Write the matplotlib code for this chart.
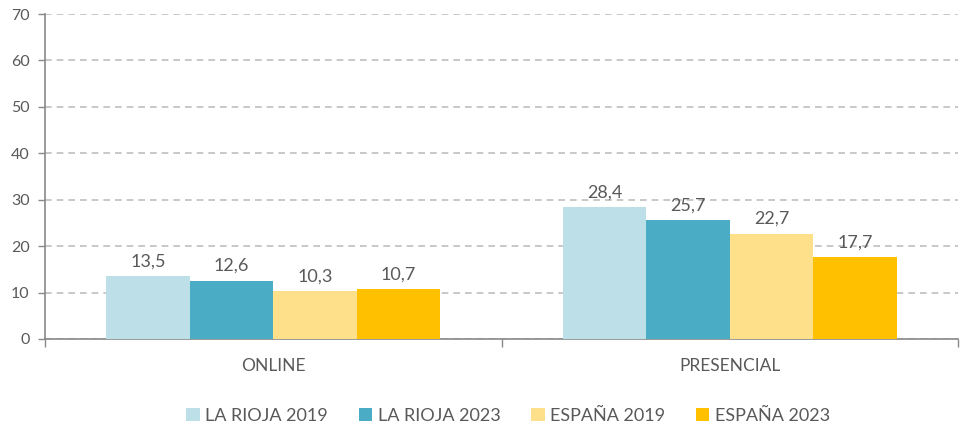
import matplotlib
matplotlib.use("Agg")
import matplotlib.pyplot as plt
import numpy as np

categories = ["ONLINE", "PRESENCIAL"]
series = ["LA RIOJA 2019", "LA RIOJA 2023", "ESPAÑA 2019", "ESPAÑA 2023"]
values = {
    "LA RIOJA 2019": [13.5, 28.4],
    "LA RIOJA 2023": [12.6, 25.7],
    "ESPAÑA 2019": [10.3, 22.7],
    "ESPAÑA 2023": [10.7, 17.7],
}
colors = ["#BDE0E8", "#4BACC6", "#FFE08A", "#FFC000"]
yticks = [0, 10, 20, 30, 40, 50, 60, 70]

plt.rcParams['font.family'] = ['Lato', 'DejaVu Sans']
txt = "#595959"

fig = plt.figure(figsize=(9.6, 4.28), dpi=100)
ax = fig.add_axes([45/960, 89/428, 913/960, 325/428])

x = np.arange(len(categories))
w = 0.183
handles = []
for i, (s, c) in enumerate(zip(series, colors)):
    pos = x + (i - 1.5) * w
    b = ax.bar(pos, values[s], width=w, color=c, label=s, zorder=3)
    handles.append(b)
    for xp, v in zip(pos, values[s]):
        ax.text(xp, v + 1.4, f"{v:.1f}".replace(".", ","), ha="center", va="bottom",
                fontsize=13, color=txt, zorder=4)

ax.set_ylim(0, 70)
ax.set_xlim(-0.5, 1.45)
ax.set_yticks(yticks)
ax.set_yticklabels([str(t) for t in yticks], fontsize=11.5, color=txt)
ax.yaxis.grid(True, linestyle=(0, (4, 3)), color="#BFBFBF", linewidth=1.2, zorder=0)
ax.set_xticks([-0.5, 0.5, 1.5])
ax.set_xticklabels([])
ax.set_xticks(x, minor=True)
ax.set_xticklabels(categories, minor=True, fontsize=12.5, color=txt)
ax.tick_params(axis="x", which="minor", length=0, pad=14)
ax.tick_params(axis="x", which="major", length=6, color="#898989", width=1)
ax.tick_params(axis="y", length=5, color="#898989", width=1, pad=6)
for sp in ["top", "right"]:
    ax.spines[sp].set_visible(False)
for sp in ["left", "bottom"]:
    ax.spines[sp].set_color("#898989")
    ax.spines[sp].set_linewidth(1.2)

leg = fig.legend(handles=handles, labels=series, loc="center", bbox_to_anchor=(508/960, 1 - 416/428),
                 ncol=4, frameon=False, fontsize=13, handlelength=0.75, handleheight=0.75,
                 handletextpad=0.3, columnspacing=1.7)
for t in leg.get_texts():
    t.set_color(txt)

fig.savefig("out.png", dpi=100)
